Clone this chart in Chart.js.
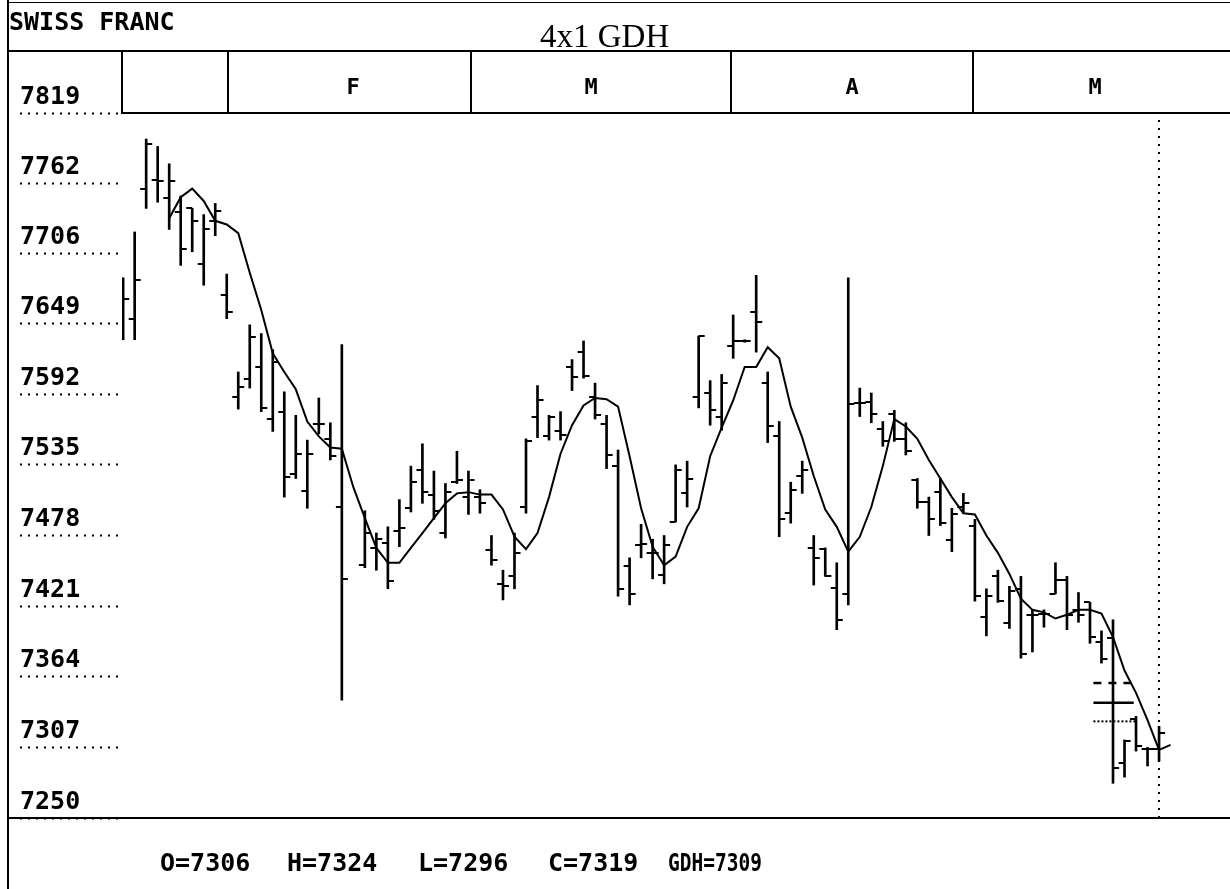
<!DOCTYPE html>
<html>
<head>
<meta charset="utf-8">
<title>Swiss Franc 4x1 GDH</title>
<script src="https://cdn.jsdelivr.net/npm/chart.js@4.4.0/dist/chart.umd.min.js"></script>
<style>
  html, body { margin: 0; padding: 0; background: #fff; }
  #page { position: relative; width: 1230px; height: 889px; overflow: hidden; color: #000;
          font-family: 'DejaVu Sans Mono', monospace; }
  #chart { position: absolute; left: 0; top: 0; }
  .rule { position: absolute; background: #000; }
  .txt { position: absolute; white-space: nowrap; line-height: 1; }
  .mono { font-size: 25px; font-weight: bold; }
  .month { font-size: 22px; font-weight: bold; transform: translateX(-50%); top: 76px; }
  #title { font-family: 'Liberation Serif', 'Times New Roman', serif; font-size: 33px; left: 540px; top: 20px; }
  #footer span { position: absolute; top: 0; display: inline-block; }
  #fG { transform: scaleX(0.78); transform-origin: left center; }
</style>
</head>
<body>
<div id="page">
  <canvas id="chart" width="1230" height="889"></canvas>

  <!-- frame -->
  <div class="rule" style="left:7px;top:0;width:2px;height:889px"></div>
  <div class="rule" style="left:7px;top:2px;width:1223px;height:1px"></div>
  <div class="rule" style="left:7px;top:50px;width:1223px;height:2px"></div>
  <div class="rule" style="left:121px;top:51px;width:2px;height:62px"></div>
  <div class="rule" style="left:227px;top:51px;width:2px;height:62px"></div>
  <div class="rule" style="left:470px;top:51px;width:2px;height:62px"></div>
  <div class="rule" style="left:730px;top:51px;width:2px;height:62px"></div>
  <div class="rule" style="left:972px;top:51px;width:2px;height:62px"></div>
  <div class="rule" style="left:121px;top:112px;width:1109px;height:2px"></div>
  <div class="rule" style="left:7px;top:817px;width:1223px;height:2px"></div>

  <!-- header texts -->
  <div class="txt mono" style="left:9px;top:9px">SWISS FRANC</div>
  <div class="txt" id="title">4x1 GDH</div>
  <div class="txt month" style="left:353px">F</div>
  <div class="txt month" style="left:591px">M</div>
  <div class="txt month" style="left:852px">A</div>
  <div class="txt month" style="left:1095px">M</div>

  <!-- footer with the last bar -->
  <div class="txt mono" id="footer" style="left:0;top:850px;width:1230px;height:30px">
    <span id="fO" style="left:160px"></span>
    <span id="fH" style="left:287px"></span>
    <span id="fL" style="left:418px"></span>
    <span id="fC" style="left:548px"></span>
    <span id="fG" style="left:668px"></span>
  </div>
</div>

<script>
// Price scale tick labels
const yTicks = [7819, 7762, 7706, 7649, 7592, 7535, 7478, 7421, 7364, 7307, 7250];

// Daily bars, one slot per trading day (null = no bar that day)
const highs = [7686, 7723, 7798, 7792, 7778, 7752, 7742, 7737, 7746, 7689,
  7610, 7648, 7641, 7628, 7594, 7575, 7555, 7589, 7569, 7632,
  null, 7498, 7480, 7485, 7507, 7534, 7552, 7530, 7520, 7546,
  7530, 7515, 7478, 7450, 7480, 7556, 7599, 7575, 7578, 7620,
  7635, 7601, 7575, 7547, 7460, 7487, 7475, 7478, 7535, 7538,
  7639, 7603, 7608, 7656, 7636, 7688, 7610, 7570, 7521, 7538,
  7478, 7468, 7456, 7686, 7597, 7593, 7570, 7579, 7569, 7524,
  7509, 7524, 7500, 7512, 7491, 7435, 7450, 7437, 7445, 7418,
  7418, 7456, 7445, 7432, 7424, 7401, 7410, 7313, 7332, 7307,
  7324];

const lows = [7636, 7636, 7742, 7747, 7725, 7696, 7707, 7680, 7720, 7653,
  7580, 7597, 7578, 7562, 7509, 7524, 7500, 7560, 7539, 7345,
  null, 7452, 7450, 7435, 7469, 7497, 7504, 7491, 7476, 7520,
  7495, 7496, 7454, 7426, 7435, 7496, 7557, 7555, 7555, 7595,
  7605, 7572, 7532, 7429, 7422, 7460, 7443, 7439, 7489, 7501,
  7581, 7567, 7563, 7621, 7634, 7626, 7553, 7477, 7488, 7512,
  7438, 7445, 7402, 7422, 7574, 7569, 7550, 7554, 7543, 7500,
  7478, 7486, 7465, 7496, 7425, 7397, 7424, 7403, 7379, 7384,
  7404, 7431, 7402, 7408, 7391, 7375, 7278, 7283, 7304, 7292,
  7296];

const opens = [7647, 7653, 7758, 7765, 7750, 7739, 7742, 7697, 7732, 7672,
  7590, 7604, 7614, 7572, 7578, 7528, 7514, 7568, 7556, 7501,
  null, 7454, 7468, 7472, 7482, 7500, 7531, 7511, 7480, 7521,
  7509, 7509, 7466, 7439, 7445, 7501, 7574, 7558, 7562, 7614,
  7626, 7590, 7568, 7534, 7453, 7470, 7464, 7446, 7489, 7512,
  7590, 7593, 7574, 7631, 7635, 7658, 7601, 7558, 7496, 7526,
  7468, 7467, 7436, 7431, 7585, 7586, 7564, 7576, 7556, 7523,
  7505, 7513, 7474, 7501, 7486, 7412, 7445, 7407, 7435, 7414,
  7415, 7431, 7442, 7418, 7424, 7392, 7395, 7294, 7330, 7306,
  7306];

const closes = [7669, 7684, 7794, 7764, 7764, 7709, 7732, 7725, 7740, 7658,
  7598, 7638, 7581, 7618, 7525, 7544, 7544, 7568, 7542, 7443,
  null, 7480, 7475, 7441, 7484, 7521, 7513, 7498, 7513, 7523,
  7523, 7504, 7458, 7437, 7464, 7554, 7587, 7574, 7559, 7606,
  7607, 7575, 7543, 7435, 7431, 7471, 7464, 7470, 7531, 7524,
  7639, 7579, 7601, 7635, 7635, 7650, 7566, 7491, 7515, 7531,
  7460, 7445, 7410, 7584, 7585, 7576, 7554, 7556, 7546, 7505,
  7491, 7488, 7495, 7504, 7429, 7429, 7425, 7433, 7382, 7414,
  7415, 7442, 7414, 7414, 7396, 7378, 7290, 7312, 7308, 7306,
  7319];

// 4x1 GDH average, displaced one slot forward
const gdh = [null, null, null, null,
  7734, 7751, 7758, 7748, 7732, 7729, 7722, 7690, 7660, 7625,
  7610, 7596, 7570, 7558, 7549, 7548, 7517, 7492, 7468, 7456,
  7456, 7468, 7480, 7492, 7504, 7512, 7513, 7511, 7511, 7499,
  7477, 7467, 7480, 7509, 7544, 7567, 7583, 7589, 7588, 7582,
  7542, 7500, 7469, 7454, 7461, 7485, 7500, 7542, 7565, 7587,
  7614, 7614, 7630, 7621, 7582, 7557, 7526, 7499, 7485, 7465,
  7477, 7501, 7534, 7572, 7566, 7556, 7539, 7524, 7509, 7496,
  7495, 7478, 7464, 7447, 7427, 7418, 7416, 7411, 7414, 7418,
  7418, 7415, 7396, 7369, 7351, 7329, 7305, 7309];

// Target levels drawn near the end (dashed, solid, dotted)
const targetLevels = [7359, 7343, 7328];
const targetStart = 84.3;
const targetEnd = [87.6, 87.8, 88.0];

// Small canvas used as point style: a tick on one side of the bar
function tickImage(side) {
    const c = document.createElement('canvas');
    c.width = 14;
    c.height = 2;
    const g = c.getContext('2d');
    g.fillStyle = '#000';
    g.fillRect(side === 'left' ? 1 : 7, 0, 6, 2);
    return c;
}

document.addEventListener('DOMContentLoaded', function() {
    const lastSlot = highs.length - 1;
    const yMin = yTicks[yTicks.length - 1];
    const yMax = yTicks[0];

    // Build the OHLC pieces
    const rangeData = [], openData = [], closeData = [];
    highs.forEach((h, i) => {
      if (h === null) return;
      rangeData.push({ x: i, y: [lows[i], h] });
      openData.push({ x: i, y: opens[i] });
      closeData.push({ x: i, y: closes[i] });
    });
    const gdhData = gdh.map((v, i) => ({ x: i, y: v }));

    const targetStyles = [
      { dash: [8, 7], width: 2.5 },
      { dash: [], width: 2.5 },
      { dash: [2, 2], width: 2 }
    ];
    const targetSets = targetLevels.map((lvl, k) => ({
      type: 'line',
      data: [{ x: targetStart, y: lvl }, { x: targetEnd[k], y: lvl }],
      borderColor: '#000',
      borderWidth: targetStyles[k].width,
      borderDash: targetStyles[k].dash,
      pointRadius: 0
    }));

    new Chart(document.getElementById('chart'), {
      type: 'bar',
      data: {
        datasets: [
          {
            type: 'line',
            data: gdhData,
            borderColor: '#000',
            borderWidth: 2,
            pointRadius: 0,
            tension: 0
          },
          {
            type: 'bar',
            data: rangeData,
            backgroundColor: '#000',
            barThickness: 2
          },
          {
            type: 'scatter',
            data: openData,
            pointStyle: tickImage('left'),
            pointRadius: 7
          },
          {
            type: 'scatter',
            data: closeData,
            pointStyle: tickImage('right'),
            pointRadius: 7
          },
          {
            type: 'line',
            data: [{ x: lastSlot, y: yMin }, { x: lastSlot, y: yMax }],
            borderColor: '#000',
            borderWidth: 2,
            borderDash: [2, 6],
            pointRadius: 0
          },
          ...targetSets
        ]
      },
      options: {
        responsive: false,
        animation: false,
        layout: {
          padding: { left: 20, top: 113, right: 8, bottom: 71 }
        },
        plugins: {
          legend: { display: false },
          tooltip: { enabled: false }
        },
        scales: {
          x: {
            type: 'linear',
            min: -0.1,
            max: 95.47,
            offset: false,
            display: false
          },
          y: {
            min: yMin,
            max: yMax,
            afterBuildTicks: scale => {
              scale.ticks = yTicks.map(v => ({ value: v }));
            },
            afterFit: scale => {
              scale.width = 102;
            },
            border: { display: false },
            grid: {
              drawOnChartArea: false,
              drawTicks: true,
              tickLength: 102,
              tickColor: '#000',
              tickWidth: 2,
              tickBorderDash: [2, 6]
            },
            ticks: {
              autoSkip: false,
              crossAlign: 'far',
              labelOffset: -16,
              padding: 0,
              color: '#000',
              font: { family: 'DejaVu Sans Mono', size: 25, weight: 'bold' },
              callback: v => String(v)
            }
          }
        }
      }
    });

    // Footer shows the last bar and its average
    document.getElementById('fO').textContent = 'O=' + opens[lastSlot];
    document.getElementById('fH').textContent = 'H=' + highs[lastSlot];
    document.getElementById('fL').textContent = 'L=' + lows[lastSlot];
    document.getElementById('fC').textContent = 'C=' + closes[lastSlot];
    document.getElementById('fG').textContent = 'GDH=' + gdh[gdh.length - 1];
});
</script>
</body>
</html>
